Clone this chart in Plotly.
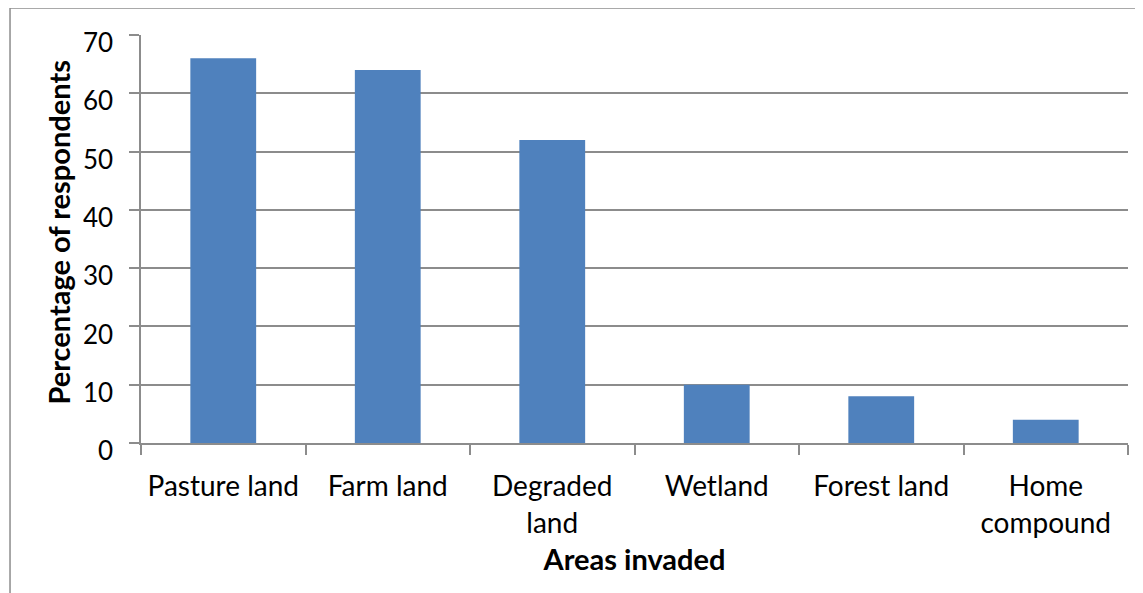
import plotly.graph_objects as go

categories = ["Pasture land", "Farm land", "Degraded<br>land", "Wetland", "Forest land", "Home<br>compound"]
values = [66, 64, 52, 10, 8, 4]
y_ticks = [0, 10, 20, 30, 40, 50, 60, 70]

FONT = "Lato, Carlito, 'Open Sans', sans-serif"
GRID = "#8c8c8c"

fig = go.Figure(go.Bar(x=categories, y=values, marker=dict(color="#4f81bd", line=dict(width=0))))

# page has an 8px body margin, so the figure is sized/offset to compensate
fig.update_layout(
    width=1135, height=585,
    margin=dict(l=133, r=15, t=27, b=150, autoexpand=False),
    paper_bgcolor="white", plot_bgcolor="white",
    bargap=0.6,
    showlegend=False,
    font=dict(family=FONT, size=28, color="black"),
)
fig.update_xaxes(
    type="category", tickson="boundaries", ticks="outside", ticklen=10, tickcolor=GRID, tickwidth=1.5,
    showline=True, linecolor=GRID, linewidth=1.5, showgrid=False, automargin=False,
    tickfont=dict(size=28), ticklabelstandoff=18,
    title=dict(text="<b>Areas invaded</b>", font=dict(size=29), standoff=12),
)
fig.update_yaxes(
    range=[0, 70], tickvals=y_ticks, ticks="outside", ticklen=10, tickcolor=GRID, tickwidth=1.5,
    showline=True, linecolor=GRID, linewidth=1.5, showgrid=True, gridcolor=GRID, gridwidth=1.5,
    zeroline=False, tickfont=dict(size=26), ticklabelstandoff=11, ticklabelshift=8, automargin=False,
)
# y axis title placed as a rotated annotation
fig.add_annotation(text="<b>Percentage of respondents</b>", xref="paper", yref="paper",
                   x=-0.084, y=0.516, xanchor="center", yanchor="middle", textangle=-90,
                   showarrow=False, font=dict(size=29, family=FONT, color="black"))
# outer chart frame (left and top edges visible)
fig.add_shape(type="line", xref="paper", yref="paper", x0=-0.1327, x1=1.2, y0=1.066, y1=1.066,
              line=dict(color=GRID, width=1.5))
fig.add_shape(type="line", xref="paper", yref="paper", x0=-0.1327, x1=-0.1327, y0=1.066, y1=-0.5,
              line=dict(color=GRID, width=1.5))

fig.write_html("out.html")
